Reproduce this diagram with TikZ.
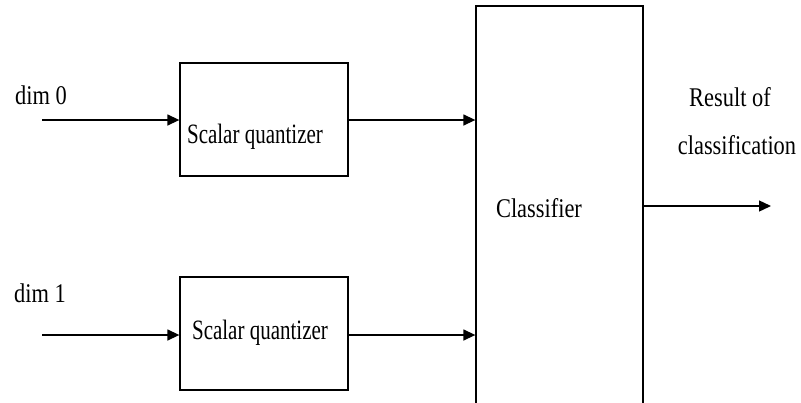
\documentclass[tikz,border=0pt]{standalone}
\usepackage{fontspec}
\setmainfont{Liberation Serif}
\newfontfamily\lblfont[FakeStretch=0.83]{Liberation Serif}
\newfontfamily\sqfont[FakeStretch=0.75]{Liberation Serif}
\usetikzlibrary{arrows.meta}
\tikzset{
  blk/.style={draw=black, line width=1.3pt, inner sep=0pt},
  lbl/.style={inner sep=0pt, font=\lblfont\fontsize{27}{29}\selectfont},
  sq/.style={inner sep=0pt, font=\sqfont\fontsize{28}{30}\selectfont},
  conn/.style={line width=1.4pt, -{Triangle[length=12pt,width=11pt]}}
}
\begin{document}
\begin{tikzpicture}[x=1pt,y=-1pt]
\useasboundingbox[fill=white] (0,0) rectangle (801,402);
\node[blk, minimum width=168pt, minimum height=113pt] (b1) at (264,119.5) {};
\node[blk, minimum width=168pt, minimum height=113pt] (b2) at (264,333.5) {};
\node[blk, minimum width=167pt, minimum height=400pt] (cls) at (559.5,206) {};
\node[sq] (t1) at (255,137) {Scalar quantizer};
\node[sq] (t2) at (260,333) {Scalar quantizer};
\node[lbl] (tc) at (539,208) {Classifier};
\node[lbl] (d0) at (41,95) {dim 0};
\node[lbl] (d1) at (40,293) {dim 1};
\node[lbl] (r1) at (730,97) {Result of};
\node[lbl] (r2) at (737,145) {classification};
\coordinate (i0) at (42,120);
\coordinate (i1) at (42,335);
\coordinate (o) at (771,206);
\draw[conn] (i0) -- (i0 -| b1.west);
\draw[conn] (i1) -- (i1 -| b2.west);
\draw[conn] (b1.east |- i0) -- (i0 -| cls.west);
\draw[conn] (b2.east |- i1) -- (i1 -| cls.west);
\draw[conn] (o -| cls.east) -- (o);
\end{tikzpicture}
\end{document}
